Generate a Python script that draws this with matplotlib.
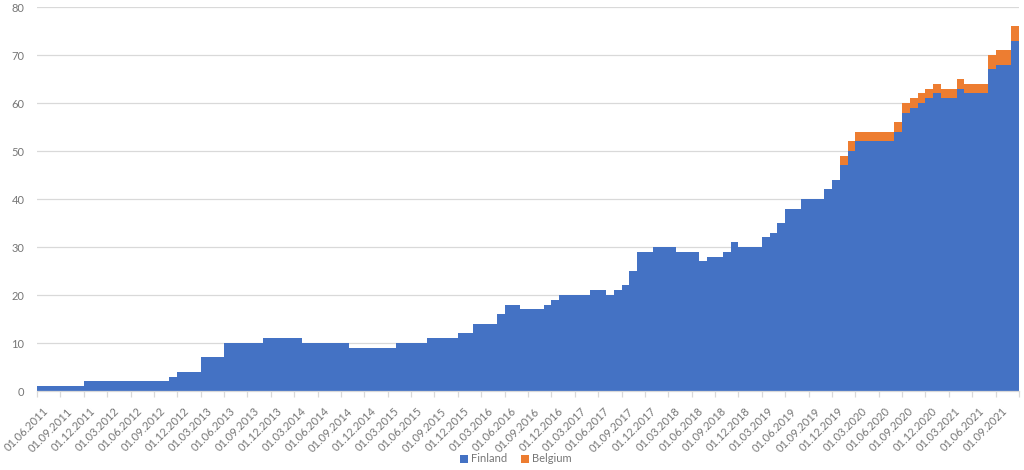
import matplotlib
matplotlib.use("Agg")
import matplotlib.pyplot as plt
import matplotlib.transforms as mtransforms
import numpy as np
import pandas as pd

# Monthly categories: 06.2011 .. 11.2021
months = pd.date_range("2011-06-01", "2021-11-01", freq="MS")

finland = [
    1, 1, 1, 1, 1, 1,
    2, 2, 2, 2, 2, 2, 2, 2, 2, 2, 2,
    3,
    4, 4, 4,
    7, 7, 7,
    10, 10, 10, 10, 10,
    11, 11, 11, 11, 11,
    10, 10, 10, 10, 10, 10,
    9, 9, 9, 9, 9, 9,
    10, 10, 10, 10,
    11, 11, 11, 11,
    12, 12,
    14, 14, 14,
    16,
    18, 18,
    17, 17, 17,
    18,
    19,
    20, 20, 20, 20,
    21, 21,
    20,
    21,
    22,
    25,
    29, 29,
    30, 30, 30,
    29, 29, 29,
    27,
    28, 28,
    29,
    31,
    30, 30, 30,
    32,
    33,
    35,
    38, 38,
    40, 40, 40,
    42,
    44,
    47,
    50,
    52, 52, 52, 52, 52,
    54,
    58,
    59,
    60,
    61,
    62,
    61, 61,
    63,
    62, 62, 62,
    67,
    68, 68,
    73,
]

belgium = [0] * 103 + [
    2, 2, 2, 2, 2, 2, 2, 2, 2, 2,
    2, 2, 2, 2, 2, 2, 2, 2, 2,
    3, 3, 3, 3,
]

tick_labels = [d.strftime("%d.%m.%Y") for d in months[::3]]

BLUE = "#4472C4"
ORANGE = "#ED7D31"
GRAY_TXT = "#767676"
GRID = "#D9D9D9"

plt.rcParams["font.family"] = ["Lato", "DejaVu Sans"]

fig = plt.figure(figsize=(10.24, 4.70), dpi=100)
ax = fig.add_axes([37 / 1024, 1 - 391 / 470, (1019 - 37) / 1024, (391 - 7) / 470])

x = np.arange(len(finland))
ax.bar(x, finland, width=1.0, align="edge", color=BLUE, linewidth=0,
       label="Finland", zorder=2)
ax.bar(x, belgium, width=1.0, align="edge", bottom=finland, color=ORANGE,
       linewidth=0, label="Belgium", zorder=2)

ax.set_xlim(0, len(finland))
ax.set_ylim(0, 80)
ax.set_yticks(np.arange(0, 81, 10))
ax.yaxis.grid(True, color=GRID, linewidth=0.9, zorder=0)
ax.set_axisbelow(True)

ticks = list(np.arange(0, len(finland) + 1, 3))
ax.set_xticks(ticks)
ax.set_xticklabels(tick_labels + [""] * (len(ticks) - len(tick_labels)),
                   rotation=45, ha="right", va="top", rotation_mode="anchor",
                   fontsize=8, color=GRAY_TXT)
ax.tick_params(axis="x", length=4, color=GRID, width=0.9, pad=3)
ax.tick_params(axis="y", length=0, labelsize=8, labelcolor=GRAY_TXT, pad=9)

offset = mtransforms.ScaledTranslation(6 / 100, -5 / 100, fig.dpi_scale_trans)
for lab in ax.get_xticklabels():
    lab.set_transform(lab.get_transform() + offset)

for s in ["top", "right", "left"]:
    ax.spines[s].set_visible(False)
ax.spines["bottom"].set_color(GRID)
ax.spines["bottom"].set_linewidth(0.9)

leg = fig.legend(loc="center", bbox_to_anchor=(516 / 1024, 1 - 459 / 470),
                 ncol=2, frameon=False, fontsize=8, handlelength=0.7,
                 handleheight=0.7, handletextpad=0.3, columnspacing=1.2)
for t in leg.get_texts():
    t.set_color(GRAY_TXT)

fig.savefig("out.png", dpi=100)
